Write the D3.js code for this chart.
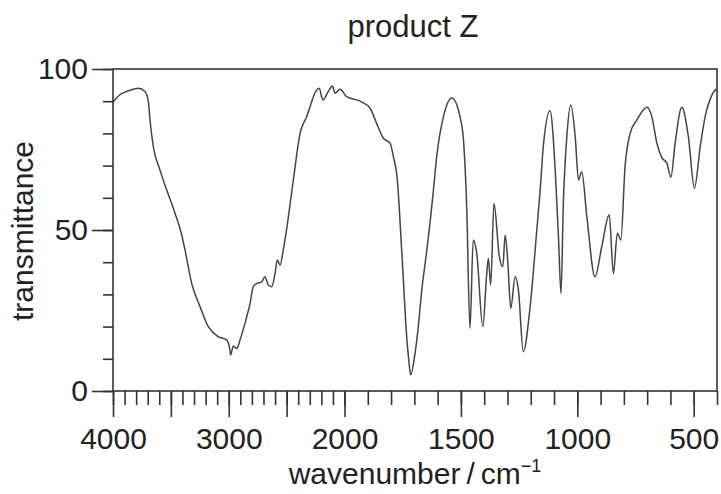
<!DOCTYPE html>
<meta charset="utf-8">
<style>
body { margin: 0; background: #fff; }
svg { display: block; font-family: "Liberation Sans", Arial, sans-serif; }
.tick text { fill: #222; }
</style>
<body>
<svg width="721" height="494"></svg>
<script src="https://d3js.org/d3.v7.min.js"></script>
<script>

// spectrum: wavenumber (cm-1) and transmittance (%)
var wavenumber = [4000, 3940, 3882, 3825, 3781, 3724, 3695, 3680, 3652, 3594, 3536, 3465, 3410, 3378,
  3320, 3248, 3177, 3090, 3018, 2995, 2983, 2961, 2931, 2903, 2860, 2816, 2788, 2759, 2715, 2687,
  2658, 2629, 2600, 2581, 2557, 2529, 2514, 2442, 2384, 2327, 2240, 2218, 2188, 2140, 2105, 2082,
  2039, 1991, 1933, 1890, 1862, 1833, 1804, 1790, 1773, 1765, 1757, 1747, 1736, 1724, 1716, 1697,
  1683, 1668, 1650, 1633, 1618, 1604, 1575, 1539, 1504, 1489, 1475, 1461, 1447, 1432, 1406, 1389,
  1382, 1372, 1358, 1335, 1320, 1310, 1299, 1286, 1267, 1253, 1232, 1203, 1174, 1160, 1146, 1117,
  1095, 1081, 1070, 1060, 1045, 1028, 1009, 995, 981, 959, 924, 895, 863, 845, 828, 813, 795, 773,
  744, 701, 680, 658, 637, 615, 598, 580, 551, 523, 497, 472, 451, 422, 405];
var transmittance = [89.7, 92, 93, 93.7, 94, 93, 90, 84, 76, 68.6, 62.4, 55.3, 49, 43.8,
  33.4, 26.2, 20, 16.9, 15.8, 13.8, 11.2, 14, 13.2, 15.8, 21, 27.2, 32.4, 33.4, 33.9, 35.5,
  32.9, 32.4, 36.5, 40.7, 39.1, 43.8, 46.9, 65.5, 80, 85.2, 93.5, 94, 90.4, 93, 94.7, 92.5,
  93.7, 91.4, 90, 87.8, 83.1, 78.5, 76.9, 72.8, 65.5, 57.2, 46.9, 34.5, 20, 9.6, 5, 11.7,
  20, 31.4, 41.7, 52, 62.4, 72.8, 85.2, 91, 85.2, 78, 57, 19.5, 46.9, 42.8, 20, 36.5,
  41.2, 32.9, 58.3, 41.7, 38.6, 48.4, 40.7, 25.7, 35.5, 31.4, 12.2, 26, 50, 62, 76, 87,
  68.6, 47.9, 30.3, 58.3, 79, 88.8, 79, 65.5, 68.1, 54.1, 35.5, 44.8, 54.7, 36.5, 49, 46.9, 69.7, 80,
  84.2, 88.1, 85.2, 76.9, 72.5, 70.7, 66.4, 76.9, 88.1, 79, 63, 75.9, 85.2, 91.9, 93.8];

var xMajor = [4000, 3500, 3000, 2500, 2000, 1500, 1000, 500];
var xLabels = [4000, 3000, 2000, 1500, 1000, 500];
var yMajor = [0, 50, 100];

var svg = d3.select("svg");
var pLeft = 113, pRight = 717, pTop = 69, pBottom = 391;

// the x axis changes scale at 2000 cm-1
var x = d3.scaleLinear().domain([4000, 2000, 400]).range([pLeft, 344.5, pRight]);
var y = d3.scaleLinear().domain([0, 100]).range([pBottom, pTop]);

var minorX = d3.range(4000, 399, -100);
var minorY = d3.range(0, 101, 10);

// minor ticks
svg.append("g")
  .attr("transform", "translate(0," + pBottom + ")")
  .call(d3.axisBottom(x).tickValues(minorX).tickSize(14).tickFormat(""));
svg.append("g")
  .attr("transform", "translate(" + pLeft + ",0)")
  .call(d3.axisLeft(y).tickValues(minorY).tickSize(10).tickFormat(""));

// major ticks + labels
svg.append("g")
  .attr("transform", "translate(0," + pBottom + ")")
  .call(d3.axisBottom(x).tickValues(xMajor).tickSize(26).tickPadding(11)
    .tickFormat(function(d) { return xLabels.indexOf(d) >= 0 ? d : ""; }));
svg.append("g")
  .attr("transform", "translate(" + pLeft + ",0)")
  .call(d3.axisLeft(y).tickValues(yMajor).tickSize(21).tickPadding(4));

svg.selectAll(".domain").remove();
svg.selectAll(".tick line").attr("stroke", "#333").attr("stroke-width", 1.6);
svg.selectAll(".tick text").attr("font-size", 30).attr("font-family", "Liberation Sans, Arial, sans-serif");

// frame
svg.append("rect")
  .attr("x", pLeft).attr("y", pTop)
  .attr("width", pRight - pLeft).attr("height", pBottom - pTop)
  .attr("fill", "none").attr("stroke", "#333").attr("stroke-width", 1.6);

// spectrum
var pts = wavenumber.map(function(w, i) { return [w, transmittance[i]]; });
var line = d3.line()
  .x(function(d) { return x(d[0]); })
  .y(function(d) { return y(d[1]); })
  .curve(d3.curveMonotoneX);

svg.append("path")
  .datum(pts)
  .attr("d", line)
  .attr("fill", "none")
  .attr("stroke", "#444")
  .attr("stroke-width", 1.5);

// texts
svg.append("text")
  .attr("x", 413).attr("y", 37)
  .attr("text-anchor", "middle")
  .attr("font-size", 31).attr("fill", "#222")
  .text("product Z");

svg.append("text")
  .attr("transform", "translate(33,231) rotate(-90)")
  .attr("text-anchor", "middle")
  .attr("font-size", 30).attr("fill", "#222")
  .text("transmittance");

var xl = svg.append("text")
  .attr("x", 415).attr("y", 484)
  .attr("text-anchor", "middle")
  .attr("font-size", 30).attr("fill", "#222");
xl.append("tspan").text("wavenumber\u2009/\u2009cm");
xl.append("tspan").attr("dy", -12).attr("font-size", 18).text("\u22121");

</script>
</body>
